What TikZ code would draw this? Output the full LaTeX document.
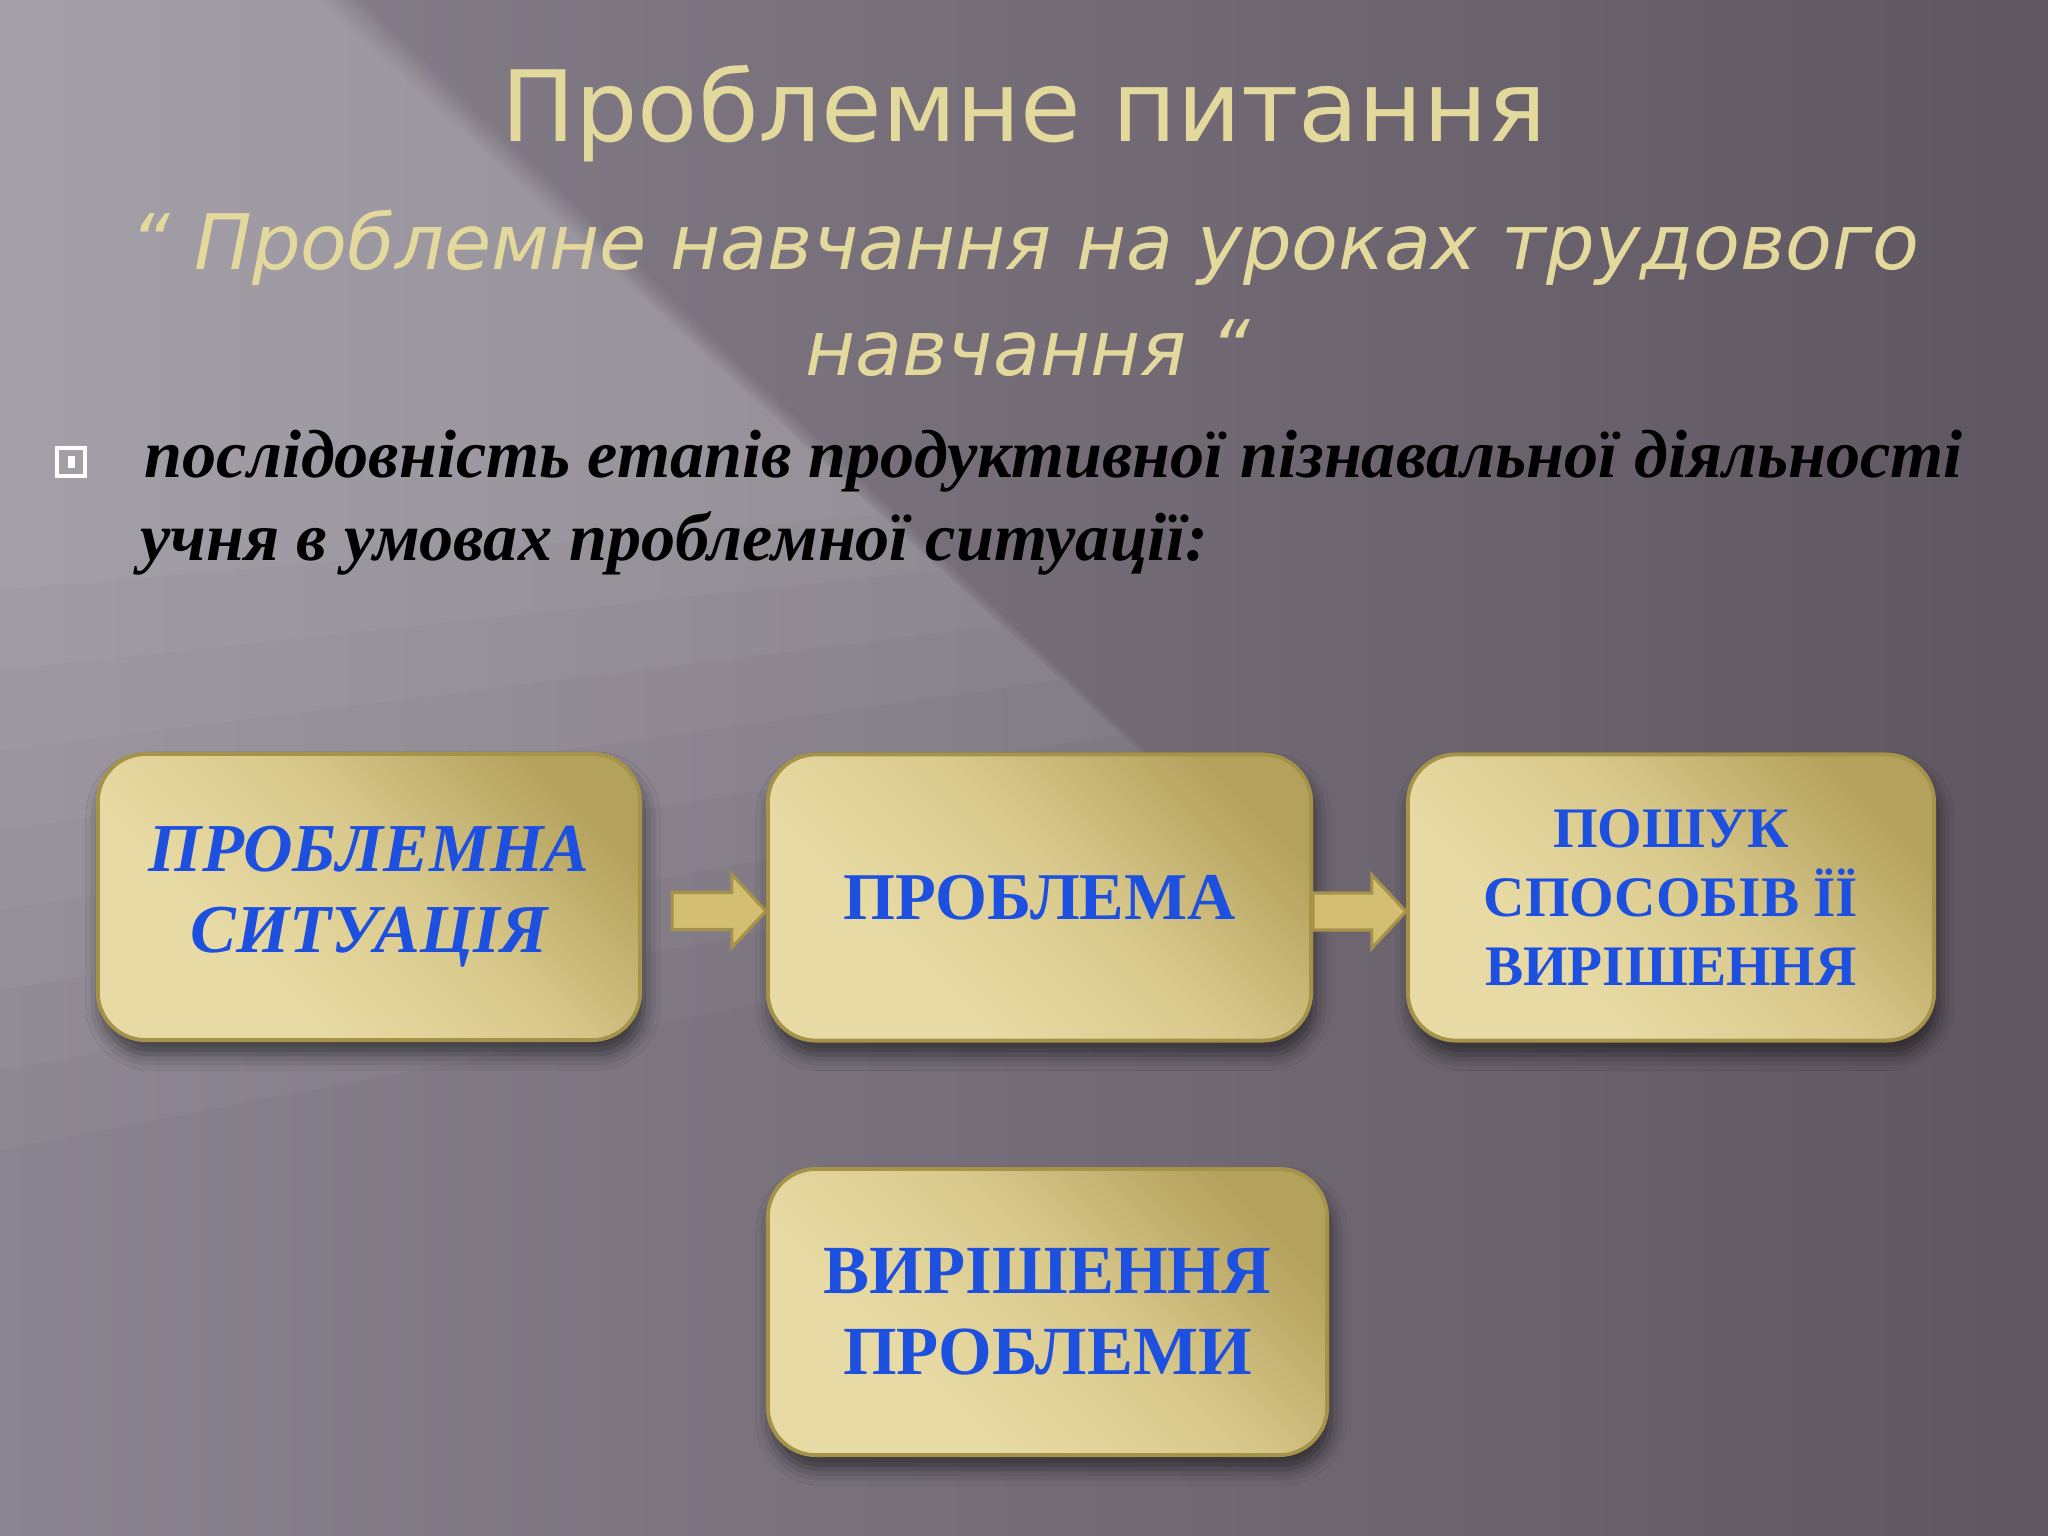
\documentclass[tikz,border=0pt]{standalone}
\usepackage{fontspec}
\setmainfont{Liberation Serif}
\newfontfamily\titlefont{DejaVu Sans}
\usetikzlibrary{calc,shadows.blur}
\definecolor{bgleft}{HTML}{8A8490}
\definecolor{bgright}{HTML}{5E5660}
\definecolor{titlegold}{HTML}{E4D99C}
\definecolor{goldlight}{HTML}{E8DAA4}
\definecolor{goldmid}{HTML}{D9C98C}
\definecolor{golddark}{HTML}{B4A15C}
\definecolor{goldedge}{HTML}{A6934A}
\definecolor{textblue}{HTML}{1E50E0}
\definecolor{arrowgold}{HTML}{D3BE72}
\pgfdeclarehorizontalshading{goldshade}{100bp}{color(0bp)=(goldlight); color(34bp)=(goldlight); color(54bp)=(goldmid); color(76bp)=(golddark); color(100bp)=(golddark)}
\tikzset{
  stagebox/.style={shade, shading=goldshade, shading angle=45, draw=goldedge,
    line width=1.1pt, rounded corners=0.48cm, minimum height=2.86cm,
    align=center, text=textblue, inner sep=0pt,
    blur shadow={shadow xshift=0.04cm, shadow yshift=-0.14cm,
      shadow blur radius=0.16cm, shadow opacity=55}},
  arrowbody/.style={fill=arrowgold, draw=goldedge, line width=0.9pt},
  titletext/.style={text=titlegold, inner sep=0pt},
  bullettext/.style={text=black, inner sep=0pt, anchor=base west,
    font=\bfseries\itshape\fontsize{19.4}{23}\selectfont},
  bandlight/.style={fill=white, opacity=0.035}
}
\newcommand\blockarrow[2]{%
  \path[arrowbody] let \p1=(#1), \p2=(#2) in
    (\x1,\y1+0.185cm) -- (\x2-0.34cm,\y1+0.185cm) -- (\x2-0.34cm,\y1+0.365cm)
    -- (\x2,\y1) -- (\x2-0.34cm,\y1-0.365cm) -- (\x2-0.34cm,\y1-0.185cm)
    -- (\x1,\y1-0.185cm) -- cycle;}
\begin{document}
\begin{tikzpicture}[x=0.01cm,y=-0.01cm]
\useasboundingbox (0,0) rectangle (2048,1536);
% background
\shade[left color=bgleft, right color=bgright] (0,0) rectangle (2048,1536);
\foreach \i in {0,...,7} {
  \fill[bandlight] (0,0) -- ({360-6*\i},0) -- ({1300-60*\i},{900-55*\i})
     -- (0,{1150-80*\i}) -- cycle;
}

% title
\node[titletext, anchor=base, font=\titlefont\fontsize{28}{32}\selectfont] (title) at (1024,141) {Проблемне питання};
\node[titletext, anchor=base, font=\titlefont\itshape\fontsize{21.8}{26}\selectfont] (sub1) at (1025,269) {“ Проблемне навчання на уроках трудового};
\node[titletext, anchor=base, font=\titlefont\itshape\fontsize{21.8}{26}\selectfont] (sub2) at (1028,375) {навчання “};

% bullet
\draw[white, line width=0.9pt] (57,448) rectangle (85,476);
\fill[white] (68,456) rectangle (75,468);
\node[bullettext] (bl1) at (144,477) {послідовність етапів продуктивної пізнавальної діяльності};
\node[bullettext] (bl2) at (140,560) {учня в умовах проблемної ситуації:};

% boxes
\node[stagebox, minimum width=5.42cm, font=\bfseries\itshape\fontsize{19.5}{23}\selectfont] (b1) at (369,897) {ПРОБЛЕМНА\\СИТУАЦІЯ};
\node[stagebox, minimum width=5.43cm, font=\bfseries\fontsize{19}{23}\selectfont] (b2) at (1039.5,897.5) {ПРОБЛЕМА};
\node[stagebox, minimum width=5.26cm, font=\bfseries\fontsize{16.3}{19.6}\selectfont] (b3) at (1671,897.5) {ПОШУК\\СПОСОБІВ ЇЇ\\ВИРІШЕННЯ};
\node[stagebox, minimum width=5.59cm, font=\bfseries\fontsize{19.6}{23}\selectfont] (b4) at (1047.5,1312) {ВИРІШЕННЯ\\ПРОБЛЕМИ};

% arrows
\coordinate (a1s) at ($(b1.east)+(30,14)$);
\coordinate (a1t) at ($(b2.west)+(0,14)$);
\coordinate (a2s) at ($(b2.east)+(0,14)$);
\coordinate (a2t) at ($(b3.west)+(0,14)$);
\blockarrow{a1s}{a1t}
\blockarrow{a2s}{a2t}
\end{tikzpicture}
\end{document}
